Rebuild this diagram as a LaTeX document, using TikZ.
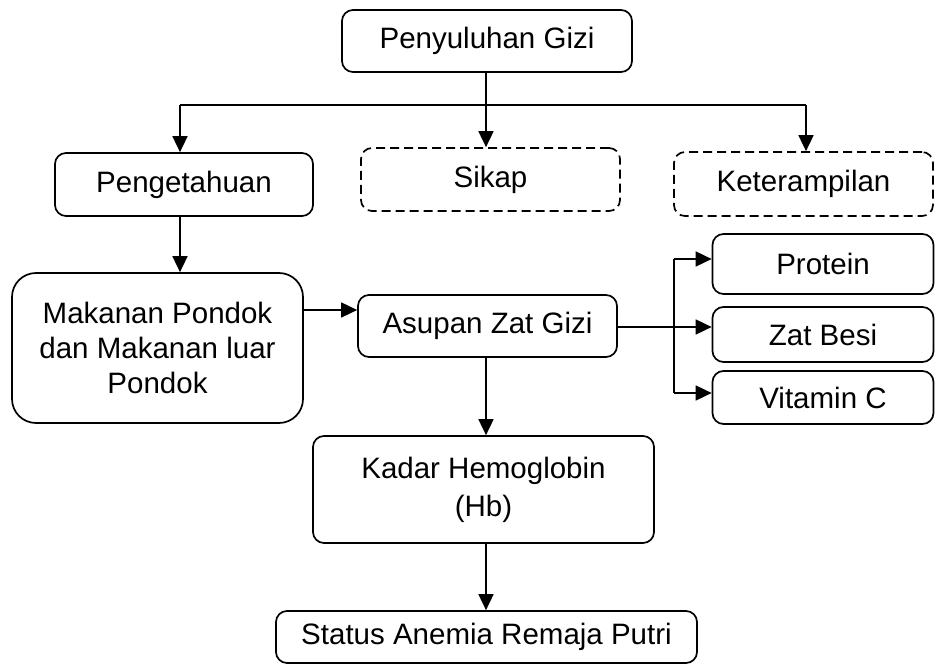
\documentclass[tikz,border=0pt]{standalone}
\usepackage{fontspec}
\setmainfont{Liberation Sans}
\usetikzlibrary{arrows.meta}
\begin{document}
\begin{tikzpicture}[x=1pt,y=-1pt,
  box/.style={draw, line width=1.7pt, rounded corners=11pt, align=center, inner sep=0pt,
    font=\fontsize{29.5}{35}\selectfont},
  dbox/.style={box, dash pattern=on 9pt off 5pt},
  arr/.style={line width=1.7pt, -{Triangle[length=16pt,width=15pt]}},
  ln/.style={line width=1.7pt}]
\useasboundingbox (0,0) rectangle (935,668);
\node[box, minimum width=290pt, minimum height=62pt] (pg) at (487,41) {Penyuluhan Gizi};
\node[box, minimum width=258pt, minimum height=63pt] (pe) at (184,184.5) {Pengetahuan};
\node[dbox, minimum width=259pt, minimum height=63pt] (si) at (490.5,179.5) {Sikap};
\node[dbox, minimum width=259pt, minimum height=64pt] (ke) at (803.5,184) {Keterampilan};
\node[box, rounded corners=24pt, minimum width=291pt, minimum height=150pt] (mk) at (157.5,348) {Makanan Pondok\\dan Makanan luar\\Pondok};
\node[box, minimum width=259pt, minimum height=62pt] (as) at (487.5,326) {Asupan Zat Gizi};
\node[box, minimum width=221pt, minimum height=60pt] (pr) at (823,264) {Protein};
\node[box, minimum width=221pt, minimum height=55pt] (zb) at (823,334.5) {Zat Besi};
\node[box, minimum width=221pt, minimum height=53pt] (vc) at (823,397.5) {Vitamin C};
\node[box, minimum width=341pt, minimum height=107pt] (hb) at (483.5,489.5) {Kadar Hemoglobin\\[3pt](Hb)};
\node[box, minimum width=421pt, minimum height=52pt] (st) at (486.5,637) {Status Anemia Remaja Putri};
\coordinate (hl) at (180,105);
\coordinate (hr) at (806,105);
\draw[ln] (hl) -- (hr);
\draw[arr] (pg.south -| 486,0) -- (si.north -| 486,0);
\draw[arr] (hl) -- (pe.north -| hl);
\draw[arr] (hr) -- (ke.north -| hr);
\draw[arr] (pe.south -| 180,0) -- (mk.north -| 180,0);
\draw[arr] (mk.east |- 0,310) -- (as.west |- 0,310);
\coordinate (vt) at (674,259);
\coordinate (vb) at (674,393);
\draw[ln] (vt) -- (vb);
\draw[arr] (as.east |- 0,327) -- (zb.west |- 0,327);
\draw[arr] (vt) -- (pr.west |- vt);
\draw[arr] (vb) -- (vc.west |- vb);
\draw[arr] (as.south -| 486,0) -- (hb.north -| 486,0);
\draw[arr] (hb.south -| 486,0) -- (st.north -| 486,0);
\end{tikzpicture}
\end{document}
